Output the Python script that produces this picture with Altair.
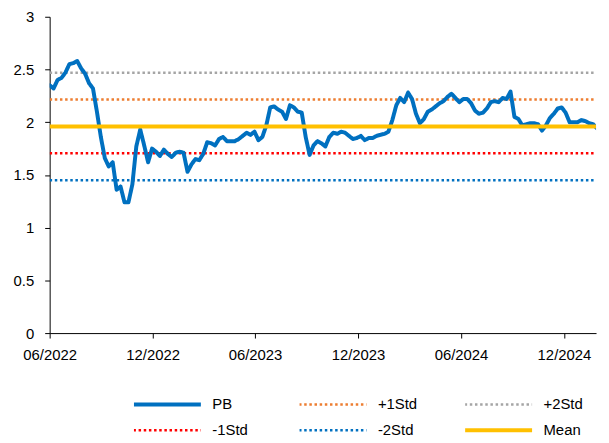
import altair as alt
import pandas as pd

# Weekly PB readings (2022-06-01 onwards, every 7 days)
pb_values = [
    2.35, 2.32, 2.40, 2.42, 2.47, 2.55, 2.56, 2.58, 2.51, 2.46,
    2.37, 2.32, 2.10, 1.86, 1.66, 1.58, 1.62, 1.36, 1.39, 1.24,
    1.24, 1.41, 1.77, 1.93, 1.78, 1.62, 1.75, 1.72, 1.68, 1.74,
    1.70, 1.67, 1.71, 1.72, 1.71, 1.53, 1.60, 1.65, 1.64, 1.70,
    1.81, 1.80, 1.78, 1.84, 1.86, 1.82, 1.82, 1.82, 1.84, 1.87,
    1.90, 1.88, 1.91, 1.83, 1.86, 1.97, 2.14, 2.15, 2.12, 2.10,
    2.03, 2.16, 2.14, 2.10, 2.09, 1.86, 1.69, 1.78, 1.82, 1.80,
    1.77, 1.86, 1.90, 1.89, 1.91, 1.90, 1.87, 1.84, 1.85, 1.87,
    1.83, 1.85, 1.85, 1.87, 1.88, 1.89, 1.91, 2.02, 2.16, 2.23,
    2.19, 2.28, 2.22, 2.08, 1.99, 2.03, 2.10, 2.12, 2.15, 2.18,
    2.20, 2.24, 2.27, 2.23, 2.19, 2.22, 2.22, 2.18, 2.11, 2.08,
    2.09, 2.13, 2.19, 2.20, 2.19, 2.23, 2.22, 2.29, 2.05, 2.03,
    1.97, 1.98, 1.99, 1.99, 1.98, 1.92, 1.97, 2.04, 2.08, 2.13,
    2.14, 2.09, 2.00, 2.00, 2.00, 2.02, 2.01, 1.99, 1.98, 1.94,
]
start_date = "2022-06-01"
end_date = "2025-01-27"

band_names = ["+1Std", "+2Std", "-1Std", "-2Std", "Mean"]
band_values = [2.215, 2.47, 1.705, 1.45, 1.96]

series_order = ["PB", "+1Std", "+2Std", "-1Std", "-2Std", "Mean"]
series_colors = ["#0070C0", "#ED7D31", "#A5A5A5", "#FF0000", "#0070C0", "#FFC000"]
series_dash = [[1, 0], [2.5, 2.7], [2.5, 2.7], [2.5, 2.7], [2.5, 2.7], [1, 0]]

tick_dates = [(2022, 6), (2022, 12), (2023, 6), (2023, 12), (2024, 6), (2024, 12)]
y_ticks = [0, 0.5, 1, 1.5, 2, 2.5, 3]

pb_df = pd.DataFrame({
    "date": pd.date_range(start_date, periods=len(pb_values), freq="7D"),
    "value": pb_values,
    "series": "PB",
})
band_rows = []
for n, v in zip(band_names, band_values):
    band_rows.append({"date": pd.Timestamp(start_date), "value": v, "series": n})
    band_rows.append({"date": pd.Timestamp(end_date), "value": v, "series": n})
band_df = pd.DataFrame(band_rows)

FONT = "Liberation Sans"

x_enc = alt.X(
    "date:T",
    title=None,
    scale=alt.Scale(domain=[alt.DateTime(year=2022, month=6, date=1),
                            alt.DateTime(year=2025, month=1, date=27)]),
    axis=alt.Axis(values=[alt.DateTime(year=y, month=m, date=1) for y, m in tick_dates],
                  format="%m/%Y", labelPadding=10, tickSize=5, labelFlush=False),
)
y_enc = alt.Y(
    "value:Q",
    title=None,
    scale=alt.Scale(domain=[0, 3], nice=False),
    axis=alt.Axis(values=y_ticks, format="~g", labelPadding=11, tickSize=5,
                  minExtent=37, maxExtent=37, labelFlush=False),
)
legend = alt.Legend(
    orient="none", legendX=85, legendY=381, columns=3, direction="horizontal",
    symbolType="stroke", symbolSize=4624, symbolOffset=26, clipHeight=20, labelOffset=38,
    columnPadding=48, rowPadding=6, gridAlign="all",
    labelFontSize=15, labelFont=FONT, labelColor="#000", padding=0,
    symbolStrokeWidth=alt.ExprRef(
        expr="datum.value === 'PB' || datum.value === 'Mean' ? 4 : 2.5"),
)
color_enc = alt.Color("series:N", title=None, legend=legend,
                      scale=alt.Scale(domain=series_order, range=series_colors))
dash_enc = alt.StrokeDash("series:N", title=None, legend=legend,
                          scale=alt.Scale(domain=series_order, range=series_dash))

enc = dict(x=x_enc, y=y_enc, color=color_enc, strokeDash=dash_enc, detail="series:N")

bands = alt.Chart(band_df).transform_filter(alt.datum.series != "Mean").mark_line(
    strokeCap="butt", strokeWidth=2.5, clip=True).encode(**enc)
pb = alt.Chart(pb_df).mark_line(
    strokeJoin="round", strokeCap="round", strokeWidth=4, clip=True).encode(**enc)
mean = alt.Chart(band_df).transform_filter(alt.datum.series == "Mean").mark_line(
    strokeCap="butt", strokeWidth=4, clip=True).encode(**enc)

chart = alt.layer(bands, pb, mean).properties(
    width=551, height=319,
    padding={"top": 0, "left": 5, "right": 5, "bottom": 0},
).configure_view(stroke=None).configure_axis(
    grid=False, labelFont=FONT, labelFontSize=15, labelColor="#000",
    domainColor="#000", tickColor="#000", domainWidth=1, tickWidth=1,
)

chart.save("out.html", embed_options={"renderer": "svg", "actions": False})
